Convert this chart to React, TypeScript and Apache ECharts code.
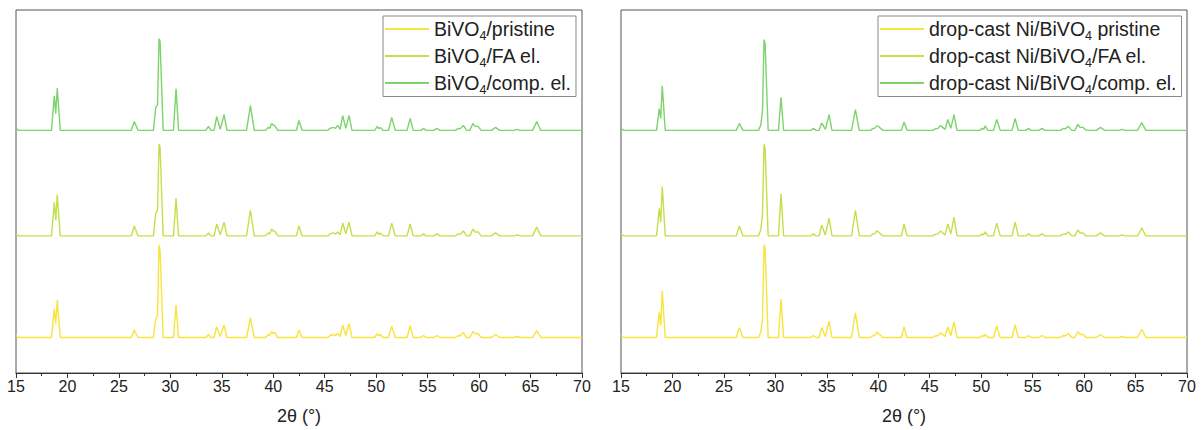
import React, { useEffect, useRef } from "react";
import * as echarts from "echarts";

// 2θ grid (degrees), grouped by reflection
const THETA_GROUPS: number[][] = [
  [15.0, 15.25],
  [18.45, 18.72, 18.86, 19.01, 19.3],
  [26.2, 26.5, 26.85],
  [28.35, 28.58, 28.75, 28.9, 29.0, 29.3],
  [30.3, 30.55, 30.8],
  [33.45, 33.7, 33.95],
  [34.25, 34.5, 34.85, 35.22, 35.5],
  [37.4, 37.78, 38.15],
  [39.25, 39.5, 39.65, 39.85, 40.0, 40.12, 40.45],
  [42.25, 42.5, 42.8],
  [45.3, 45.52, 45.81, 46.05, 46.26, 46.5, 46.75, 47.05, 47.36, 47.65],
  [49.85, 50.11, 50.25, 50.4, 50.65],
  [51.2, 51.51, 51.85],
  [53.0, 53.3, 53.6],
  [54.35, 54.6, 54.85],
  [55.6, 55.9, 56.2],
  [57.7, 57.98, 58.15, 58.47, 58.8],
  [59.1, 59.4, 59.6, 59.9, 60.2],
  [61.2, 61.6, 62.0],
  [63.4, 63.7, 64.0],
  [65.2, 65.6, 66.0],
  [70.0],
];

// intensities (a.u., above each trace's baseline)
const L_PRISTINE: number[][] = [
  [2, 0], [0, 29, 14, 38, 0], [0, 7.5, 0], [0, 19, 22, 94, 88, 0], [0, 33, 0], [0, 3, 0],
  [0, 11, 1, 12.5, 0], [0, 20, 0], [0, 3, 2, 6, 4, 5, 0], [0, 7.5, 0],
  [0, 2, 3, 2, 4, 1, 12.5, 2, 14, 0], [0, 4, 1.5, 3, 0], [0, 11.5, 0], [0, 12, 0], [0, 2, 0], [0, 2, 0],
  [0, 2, 1.5, 5, 0], [0, 6, 4, 4, 0], [0, 3, 0], [0, 1, 0], [0, 7, 0], [0],
];
const L_FA: number[][] = [
  [2, 0], [0, 34, 16, 42, 0], [0, 10, 0], [0, 23, 26, 93, 90, 0], [0, 38, 0], [0, 3, 0],
  [0, 12, 1, 14, 0], [0, 26, 0], [0, 3, 2, 7, 5, 5, 0], [0, 10, 0],
  [0, 2, 3, 2, 4, 1, 13, 2, 14, 0], [0, 4, 1.5, 3, 0], [0, 13, 0], [0, 12, 0], [0, 2, 0], [0, 2, 0],
  [0, 2, 1.5, 5, 0], [0, 7, 4, 4, 0], [0, 3, 0], [0, 1, 0], [0, 9, 0], [0],
];
const L_COMP: number[][] = [
  [2, 0], [0, 35, 17, 43, 0], [0, 9, 0], [0, 23, 26, 93, 90, 0], [0, 42, 0], [0, 4, 0],
  [0, 14, 1, 16, 0], [0, 25, 0], [0, 3, 2, 7, 5, 5, 0], [0, 10, 0],
  [0, 2, 3, 2, 5, 1, 15, 2, 15, 0], [0, 4, 1.5, 3, 0], [0, 13, 0], [0, 12, 0], [0, 2, 0], [0, 2, 0],
  [0, 2, 1.5, 5, 0], [0, 7, 4, 4, 0], [0, 3, 0], [0, 1, 0], [0, 9, 0], [0],
];
const R_PRISTINE: number[][] = [
  [2, 0], [0, 26, 12, 47, 0], [0, 10, 0], [0, 5, 19, 94, 90, 0], [0, 39, 0], [0, 2, 0],
  [0, 10, 1, 16.5, 0], [0, 25, 0], [0, 2, 2, 5.5, 4, 3, 0], [0, 10.7, 0],
  [0, 1.5, 2, 4.7, 3, 1, 10.7, 2, 15.7, 0], [0, 2, 1, 3, 0], [0, 11.7, 0], [0, 13, 0], [0, 2, 0], [0, 2, 0],
  [0, 2, 1.5, 4, 0], [0, 6.3, 3, 3, 0], [0, 3, 0], [0, 1, 0], [0, 8.3, 0], [0],
];
const R_FA: number[][] = [
  [2, 0], [0, 28, 14, 50, 0], [0, 10, 0], [0, 6, 22, 93, 89, 0], [0, 43, 0], [0, 2, 0],
  [0, 11, 1, 18, 0], [0, 26, 0], [0, 2, 2, 5, 4, 3, 0], [0, 12, 0],
  [0, 1.5, 2, 5, 3, 1, 12, 2, 19, 0], [0, 2, 1, 4, 0], [0, 13, 0], [0, 14, 0], [0, 2, 0], [0, 2, 0],
  [0, 2, 1.5, 4, 0], [0, 6, 3, 3, 0], [0, 3, 0], [0, 1, 0], [0, 8, 0], [0],
];
const R_COMP: number[][] = [
  [2, 0], [0, 22, 12, 45, 0], [0, 7, 0], [0, 5, 20, 92, 88, 0], [0, 33.5, 0], [0, 2, 0],
  [0, 7.5, 1, 16, 0], [0, 21, 0], [0, 2, 2, 4.5, 4, 3, 0], [0, 8.5, 0],
  [0, 1.5, 2, 5, 3, 1, 11, 2, 16, 0], [0, 2, 1, 4.5, 0], [0, 11, 0], [0, 12, 0], [0, 2, 0], [0, 2, 0],
  [0, 2, 1.5, 4, 0], [0, 6, 3, 3, 0], [0, 3, 0], [0, 1, 0], [0, 8, 0], [0],
];

// vertical stacking offsets (pristine, FA el., comp. el.)
const OFFSETS = [36, 139, 246];

const LEFT_NAMES = ["BiVO4/pristine", "BiVO4/FA el.", "BiVO4/comp. el."];
const RIGHT_NAMES = [
  "drop-cast Ni/BiVO4 pristine",
  "drop-cast Ni/BiVO4/FA el.",
  "drop-cast Ni/BiVO4/comp. el.",
];
const COLORS = ["#f7e43c", "#c2e04a", "#7dd36c"];
const X_TICKS = { min: 15, max: 70, interval: 5 };

const FONT = "'Liberation Sans', Arial, sans-serif";

function toData(groups: number[][], offset: number): number[][] {
  const th = THETA_GROUPS.flat();
  const v = groups.flat();
  return th.map((t, i) => [t, offset + (v[i] ?? 0)]);
}

export default function App() {
  const ref = useRef<HTMLDivElement>(null);
  useEffect(() => {
    if (!ref.current) return;
    const chart = echarts.init(ref.current, null, { renderer: "svg" });
    const xAxis = (gi: number) => ({
      type: "value",
      gridIndex: gi,
      min: X_TICKS.min,
      max: X_TICKS.max,
      interval: X_TICKS.interval,
      name: "2θ (°)",
      nameLocation: "middle",
      nameGap: 34,
      nameTextStyle: { fontSize: 18, color: "#222", fontFamily: FONT },
      axisLine: { show: true, onZero: false, lineStyle: { color: "#333", width: 1 } },
      axisTick: { show: true, inside: false, length: 5, lineStyle: { color: "#333" } },
      minorTick: { show: true, splitNumber: 2, length: 3, lineStyle: { color: "#333" } },
      axisLabel: { fontSize: 16, color: "#222", margin: 5, fontFamily: FONT },
      splitLine: { show: false },
      minorSplitLine: { show: false },
    });
    const yAxis = (gi: number) => ({
      type: "value",
      gridIndex: gi,
      min: 0,
      max: 368,
      show: false,
    });
    const rich = {
      s: { fontSize: 12.5, fontFamily: FONT, color: "#222", height: 6, verticalAlign: "bottom" },
    };
    const legend = (names: string[], left: number) => ({
      data: names,
      orient: "vertical",
      left,
      top: 16,
      selectedMode: false,
      backgroundColor: "#fff",
      borderColor: "#888",
      borderWidth: 1,
      borderRadius: 0,
      padding: [3, 5, 0, 2],
      itemGap: 3.5,
      itemWidth: 44,
      itemHeight: 2,
      icon: "rect",
      textStyle: { fontSize: 19.5, color: "#222", fontFamily: FONT, lineHeight: 20, rich },
      formatter: (n: string) => n.replace("BiVO4", "BiVO{s|4}"),
    });
    const left = [L_PRISTINE, L_FA, L_COMP];
    const right = [R_PRISTINE, R_FA, R_COMP];
    const series: any[] = [];
    left.forEach((g, i) =>
      series.push({
        type: "line",
        name: LEFT_NAMES[i],
        xAxisIndex: 0,
        yAxisIndex: 0,
        data: toData(g, OFFSETS[i]),
        symbol: "none",
        showSymbol: false,
        lineStyle: { color: COLORS[i], width: 1.4 },
        itemStyle: { color: COLORS[i] },
      })
    );
    right.forEach((g, i) =>
      series.push({
        type: "line",
        name: RIGHT_NAMES[i],
        xAxisIndex: 1,
        yAxisIndex: 1,
        data: toData(g, OFFSETS[i]),
        symbol: "none",
        showSymbol: false,
        lineStyle: { color: COLORS[i], width: 1.4 },
        itemStyle: { color: COLORS[i] },
      })
    );
    chart.setOption({
      animation: false,
      backgroundColor: "#fff",
      textStyle: { fontFamily: FONT },
      grid: [
        { left: 16, top: 10, width: 566, height: 368, show: true, borderColor: "#555", borderWidth: 1 },
        { left: 621, top: 10, width: 566, height: 368, show: true, borderColor: "#555", borderWidth: 1 },
      ],
      xAxis: [xAxis(0), xAxis(1)],
      yAxis: [yAxis(0), yAxis(1)],
      legend: [legend(LEFT_NAMES, 383), legend(RIGHT_NAMES, 878)],
      series,
    });
    return () => chart.dispose();
  }, []);
  return (
    <div
      ref={ref}
      style={{ position: "fixed", left: 0, top: 0, width: 1203, height: 430, background: "#fff" }}
    />
  );
}
